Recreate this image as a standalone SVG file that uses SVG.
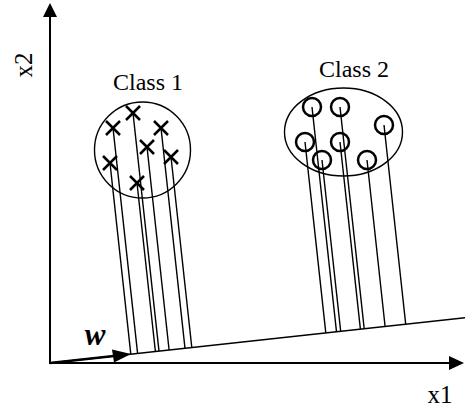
<svg xmlns="http://www.w3.org/2000/svg" width="465" height="408" viewBox="0 0 465 408">
  <defs>
    <g id="xmark">
      <path d="M-7,-7 L7,7 M-7,7 L7,-7" stroke="#000" stroke-width="2.5" fill="none"/>
    </g>
    <g id="omark">
      <circle r="9" stroke="#000" stroke-width="2.5" fill="none"/>
    </g>
  </defs>
  <style>
    .axis { stroke: #000; stroke-width: 2; fill: none; }
    .proj { stroke: #000; stroke-width: 1.4; fill: none; }
    .boundary { stroke: #000; stroke-width: 1.4; fill: none; }
    .label { font-family: "Liberation Serif", "Times New Roman", serif; font-size: 24px; fill: #000; }
    .axislabel { font-family: "Liberation Serif", "Times New Roman", serif; font-size: 25px; fill: #000; }
    .wlabel { font-family: "Liberation Serif", "Times New Roman", serif; font-size: 31px; font-weight: bold; font-style: italic; fill: #000; }
  </style>
  <rect width="465" height="408" fill="#fff"/>

  <!-- axes -->
  <g id="axes">
    <path d="M50,364 L50,16" class="axis"/>
    <path d="M43,17 L50,3 L57,17 Z" fill="#000"/>
    <path d="M49,363 L450,363" class="axis"/>
    <path d="M449,356 L464,363 L449,370 Z" fill="#000"/>
    <text class="axislabel" transform="translate(32,65) rotate(-90)" text-anchor="middle">x2</text>
    <text class="axislabel" x="440" y="403" text-anchor="middle">x1</text>
  </g>

  <!-- projection direction line -->
  <g id="projection-line">
    <line class="proj" x1="50" y1="363" x2="465" y2="317.8"/>
  </g>

  <!-- w vector -->
  <g id="w-vector">
    <path d="M50,363 L114,356" stroke="#000" stroke-width="2.6" fill="none"/>
    <path d="M112,349.5 L131,354 L114,362.5 Z" fill="#000"/>
    <text class="wlabel" x="95" y="345" text-anchor="middle">w</text>
  </g>

  <!-- connectors: projections of samples onto w -->
  <g id="connectors">
    <line class="proj" x1="133" y1="113" x2="159.0" y2="351.1"/>
    <line class="proj" x1="113" y1="128" x2="137.6" y2="353.4"/>
    <line class="proj" x1="161" y1="128" x2="185.0" y2="348.3"/>
    <line class="proj" x1="147" y1="147" x2="169.1" y2="350.0"/>
    <line class="proj" x1="171" y1="157" x2="191.8" y2="347.5"/>
    <line class="proj" x1="110" y1="163" x2="130.8" y2="354.2"/>
    <line class="proj" x1="137" y1="183" x2="155.4" y2="351.5"/>

    <line class="proj" x1="312" y1="107" x2="336.5" y2="331.8"/>
    <line class="proj" x1="340" y1="107" x2="364.2" y2="328.7"/>
    <line class="proj" x1="384" y1="125" x2="405.7" y2="324.2"/>
    <line class="proj" x1="305" y1="142" x2="325.8" y2="332.9"/>
    <line class="proj" x1="340" y1="142" x2="360.4" y2="329.2"/>
    <line class="proj" x1="322" y1="160" x2="340.7" y2="331.3"/>
    <line class="proj" x1="367" y1="160" x2="385.1" y2="326.5"/>
  </g>

  <!-- class 1 cluster -->
  <g id="class1">
    <circle class="boundary" cx="142.5" cy="150" r="48"/>
    <use href="#xmark" x="133" y="113"/>
    <use href="#xmark" x="113" y="128"/>
    <use href="#xmark" x="161" y="128"/>
    <use href="#xmark" x="147" y="147"/>
    <use href="#xmark" x="171" y="157"/>
    <use href="#xmark" x="110" y="163"/>
    <use href="#xmark" x="137" y="183"/>
    <text class="label" x="148" y="90" text-anchor="middle">Class 1</text>
  </g>

  <!-- class 2 cluster -->
  <g id="class2">
    <ellipse class="boundary" cx="343.5" cy="132" rx="59" ry="44"/>
    <use href="#omark" x="312" y="107"/>
    <use href="#omark" x="340" y="107"/>
    <use href="#omark" x="384" y="125"/>
    <use href="#omark" x="305" y="142"/>
    <use href="#omark" x="340" y="142"/>
    <use href="#omark" x="322" y="160"/>
    <use href="#omark" x="367" y="160"/>
    <text class="label" x="354" y="77" text-anchor="middle">Class 2</text>
  </g>
</svg>
